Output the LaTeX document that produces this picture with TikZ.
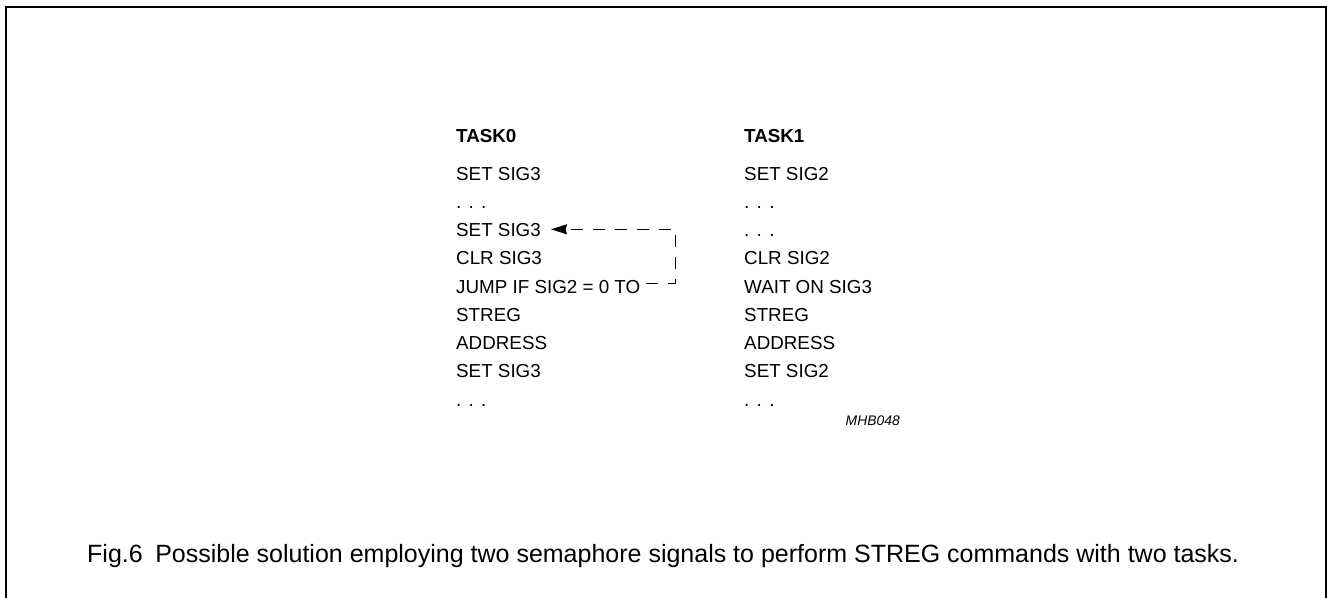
\documentclass[tikz,border=0pt]{standalone}
\usepackage{fontspec}
\setmainfont{Liberation Sans}
\usetikzlibrary{arrows.meta,calc}
\begin{document}
\begin{tikzpicture}[x=1pt,y=-1pt,
  txt/.style={anchor=base west,inner sep=0pt,font=\fontsize{18.8}{22}\selectfont},
  hdr/.style={txt,font=\fontsize{18.8}{22}\selectfont\bfseries},
  dashline/.style={line width=1.5pt,dash pattern=on 12pt off 10pt},
  frame/.style={line width=2pt}]
\useasboundingbox (0,0) rectangle (1327,598);
\fill[white] (0,0) rectangle (1327,598);
\draw[frame] (6,598) -- (6,6.5) -- (1325.5,6.5) -- (1325.5,598);
\newcommand{\tdots}{.\kern7.3pt.\kern7.3pt.}
% TASK0 column
\node[hdr] (t0) at (456,142.7) {TASK0};
\node[txt] (a1) at (456,180) {SET SIG3};
\node[txt] (a2) at (456,208.25) {\tdots};
\node[txt] (a3) at (456,236.5) {SET SIG3};
\node[txt] (a4) at (456,264.75) {CLR SIG3};
\node[txt] (a5) at (456,293) {JUMP IF SIG2 = 0 TO};
\node[txt] (a6) at (456,321.25) {STREG};
\node[txt] (a7) at (456,349.5) {ADDRESS};
\node[txt] (a8) at (456,377.75) {SET SIG3};
\node[txt] (a9) at (456,406) {\tdots};
% TASK1 column
\node[hdr] (t1) at (744,142.7) {TASK1};
\node[txt] (b1) at (744,180) {SET SIG2};
\node[txt] (b2) at (744,208.25) {\tdots};
\node[txt] (b3) at (744,236.5) {\tdots};
\node[txt] (b4) at (744,264.75) {CLR SIG2};
\node[txt] (b5) at (744,293) {WAIT ON SIG3};
\node[txt] (b6) at (744,321.25) {STREG};
\node[txt] (b7) at (744,349.5) {ADDRESS};
\node[txt] (b8) at (744,377.75) {SET SIG2};
\node[txt] (b9) at (744,406) {\tdots};
% label
\node[anchor=base east,inner sep=0pt,font=\fontsize{13.9}{16}\selectfont\itshape] (mhb) at (900,425) {MHB048};
% dashed arrow
\coordinate (js) at ($(a5.base east)+(6,-9.5)$);
\coordinate (at) at ($(a3.base east)+(10,-7.2)$);
\draw[dashline,-{Stealth[length=16pt,width=10pt,inset=1.5pt]}] (js) -- ++(29,0) |- (at);
% caption
\node[anchor=base west,inner sep=0pt,font=\fontsize{25}{30}\selectfont] (cap) at (87,562) {Fig.6\hspace{0.5em}Possible solution employing two semaphore signals to perform STREG commands with two tasks.};
\end{tikzpicture}
\end{document}
